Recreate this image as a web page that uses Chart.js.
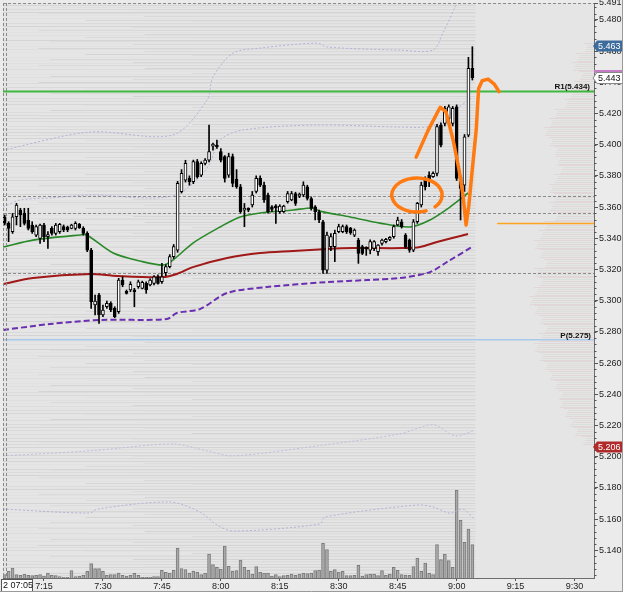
<!DOCTYPE html>
<html>
<head>
<meta charset="utf-8">
<script src="https://cdn.jsdelivr.net/npm/chart.js@4.4.1/dist/chart.umd.min.js"></script>
<style>
html,body{margin:0;padding:0;background:#ffffff;overflow:hidden;}
canvas{display:block;}
</style>
</head>
<body>
<canvas id="chart" width="625" height="595"></canvas>
<script>
// ================= DATA =================
const firstMinute = 5; // first candle at 07:05 (minutes after 07:00), one candle per minute
const opens = [
5.3538,5.3495,5.3442,5.3538,5.3581,5.3559,5.3517,5.3485,5.3420,5.3399,
5.3485,5.3410,5.3463,5.3431,5.3442,5.3474,5.3470,5.3463,5.3463,5.3489,
5.3463,5.3431,5.3324,5.2972,5.3036,5.2908,5.2961,5.2983,5.2950,5.2929,
5.3132,5.3057,5.3068,5.3068,5.3089,5.3079,5.3111,5.3100,5.3111,5.3153,
5.3121,5.3180,5.3218,5.3282,5.3324,5.3698,5.3773,5.3784,5.3762,5.3891,
5.3805,5.3880,5.3901,5.3990,5.3997,5.3955,5.3923,5.3805,5.3923,5.3780,
5.3730,5.3580,5.3585,5.3613,5.3700,5.3784,5.3741,5.3677,5.3602,5.3602,
5.3570,5.3570,5.3634,5.3645,5.3687,5.3670,5.3677,5.3730,5.3655,5.3602,
5.3570,5.3506,5.3196,5.3346,5.3346,5.3442,5.3442,5.3474,5.3463,5.3420,
5.3388,5.3346,5.3335,5.3324,5.3335,5.3314,5.3367,5.3378,5.3393,5.3410,
5.3485,5.3506,5.3420,5.3388,5.3324,5.3506,5.3613,5.3773,5.3805,5.3794,
5.3816,5.4126,5.4136,5.4168,5.4136,5.4243,5.3790,5.3740,5.4061,5.4489];
const highs = [
5.3549,5.3506,5.3559,5.3624,5.3592,5.3592,5.3592,5.3506,5.3485,5.3490,
5.3495,5.3442,5.3474,5.3495,5.3495,5.3485,5.3478,5.3490,5.3506,5.3495,
5.3474,5.3442,5.3335,5.3036,5.3047,5.2972,5.2997,5.2993,5.2961,5.3143,
5.3153,5.3068,5.3121,5.3079,5.3132,5.3125,5.3121,5.3140,5.3160,5.3165,
5.3239,5.3230,5.3295,5.3360,5.3765,5.3840,5.3900,5.3800,5.3901,5.3905,
5.3890,5.3910,5.4126,5.4010,5.4030,5.3975,5.3930,5.3945,5.3940,5.3840,
5.3745,5.3623,5.3595,5.3700,5.3800,5.3800,5.3760,5.3690,5.3610,5.3615,
5.3615,5.3612,5.3700,5.3700,5.3695,5.3690,5.3762,5.3740,5.3665,5.3610,
5.3580,5.3515,5.3440,5.3430,5.3452,5.3490,5.3485,5.3485,5.3470,5.3460,
5.3400,5.3355,5.3345,5.3390,5.3385,5.3360,5.3395,5.3400,5.3410,5.3485,
5.3535,5.3520,5.3430,5.3395,5.3520,5.3630,5.3760,5.3794,5.3826,5.3826,
5.4130,5.4140,5.4245,5.4255,5.4245,5.4255,5.3800,5.4065,5.4560,5.4628];
const lows = [
5.3485,5.3378,5.3431,5.3485,5.3474,5.3485,5.3453,5.3431,5.3410,5.3367,
5.3378,5.3335,5.3420,5.3420,5.3431,5.3442,5.3442,5.3460,5.3453,5.3463,
5.3420,5.3314,5.2950,5.2908,5.2854,5.2897,5.2950,5.2929,5.2891,5.2918,
5.3089,5.3042,5.3057,5.2961,5.3079,5.3075,5.3047,5.3095,5.3100,5.3105,
5.3111,5.3160,5.3210,5.3270,5.3310,5.3690,5.3760,5.3740,5.3750,5.3785,
5.3795,5.3870,5.3890,5.3965,5.3975,5.3890,5.3760,5.3790,5.3730,5.3720,
5.3560,5.3474,5.3570,5.3600,5.3690,5.3730,5.3630,5.3560,5.3570,5.3495,
5.3560,5.3565,5.3625,5.3640,5.3610,5.3660,5.3666,5.3645,5.3580,5.3517,
5.3500,5.3175,5.3175,5.3320,5.3250,5.3435,5.3435,5.3430,5.3425,5.3410,
5.3239,5.3295,5.3290,5.3300,5.3320,5.3290,5.3355,5.3370,5.3385,5.3400,
5.3480,5.3465,5.3335,5.3310,5.3314,5.3495,5.3600,5.3709,5.3730,5.3790,
5.3800,5.3985,5.4120,5.4150,5.4120,5.3770,5.3517,5.3700,5.4050,5.4414];
const closes = [
5.3495,5.3463,5.3538,5.3613,5.3549,5.3495,5.3463,5.3442,5.3474,5.3485,
5.3410,5.3420,5.3431,5.3485,5.3489,5.3453,5.3453,5.3485,5.3495,5.3468,
5.3431,5.3324,5.2993,5.2997,5.2908,5.2940,5.2983,5.2940,5.2897,5.3132,
5.3100,5.3047,5.3104,5.3057,5.3121,5.3117,5.3068,5.3132,5.3153,5.3111,
5.3153,5.3218,5.3282,5.3346,5.3752,5.3816,5.3880,5.3762,5.3891,5.3794,
5.3880,5.3901,5.3955,5.3997,5.3985,5.3901,5.3784,5.3923,5.3752,5.3730,
5.3570,5.3585,5.3580,5.3677,5.3784,5.3741,5.3645,5.3570,5.3585,5.3595,
5.3606,5.3606,5.3687,5.3687,5.3623,5.3677,5.3741,5.3655,5.3591,5.3570,
5.3517,5.3196,5.3420,5.3410,5.3431,5.3474,5.3474,5.3442,5.3435,5.3452,
5.3303,5.3303,5.3330,5.3378,5.3378,5.3356,5.3388,5.3393,5.3399,5.3474,
5.3517,5.3474,5.3346,5.3324,5.3506,5.3623,5.3741,5.3730,5.3773,5.3816,
5.4115,5.3997,5.4232,5.4243,5.4232,5.3784,5.3720,5.4050,5.4489,5.4430];
const volumes = [
10,20,30,10,8,12,8,7,8,10,
5,15,8,7,4,2,2,22,4,5,
8,20,43,28,28,20,8,10,10,15,
8,5,8,14,8,2,2,2,4,4,
23,17,15,23,90,28,25,15,20,17,
10,15,72,40,32,27,96,35,20,22,
54,32,23,12,34,17,15,15,5,10,
4,7,8,12,8,12,15,13,15,22,
24,104,85,20,25,18,20,7,7,8,
38,6,10,12,12,7,22,8,12,32,
23,10,9,8,34,60,20,45,15,10,
100,55,72,52,32,263,173,107,147,100];

// x ticks (minutes after 07:00) and y ticks (price)
const xTickMinutes = [15,30,45,60,75,90,105,120,135,150];
const yTickValues = [5.140,5.160,5.180,5.200,5.220,5.240,5.260,5.280,5.300,5.320,5.340,5.360,5.380,5.400,5.420,5.440,5.460,5.480];
const yTopLabel = 5.491;

// indicator lines: [minute, price]
const emaFast = [[4.6,5.3344],[12.2,5.3388],[24.2,5.3421],[25.9,5.3421],[32.6,5.3305],[39.4,5.3254],[45.3,5.3228],[47.8,5.3260],[52.9,5.3369],[59.8,5.3472],[64.9,5.3536],[70.0,5.3562],[78.4,5.3581],[83.4,5.3594],[85.2,5.3574],[92.9,5.3536],[100.5,5.3497],[108.1,5.3472],[113.2,5.3517],[118.3,5.3600],[122.9,5.3690]];
const emaSlow = [[4.6,5.3106],[12.2,5.3145],[26.7,5.3171],[33.6,5.3158],[45.3,5.3151],[48.8,5.3171],[52.9,5.3215],[61.6,5.3273],[70.0,5.3305],[78.4,5.3318],[87.0,5.3331],[93.6,5.3337],[106.3,5.3337],[110.7,5.3344],[115.0,5.3376],[122.9,5.3427]];
const vwapLine = [[4.6,5.2812],[16.5,5.2850],[29.2,5.2876],[46.3,5.2882],[48.8,5.2921],[54.7,5.2946],[61.6,5.3049],[71.7,5.3087],[87.0,5.3119],[97.2,5.3132],[105.6,5.3145],[113.2,5.3183],[117.5,5.3247],[123.9,5.3344]];
const bandUpper3 = [[4.6,5.3965],[26.7,5.4081],[47.8,5.4062],[56.5,5.4286],[58.0,5.4433],[63.1,5.4587],[70.0,5.4619],[84.5,5.4651],[87.0,5.4626],[105.6,5.4606],[114.0,5.4606],[116.5,5.4715],[119.6,5.4882],[121.4,5.4978]];
const bandUpper2 = [[4.6,5.3600],[8.9,5.3645],[16.5,5.3658],[26.7,5.3677],[47.8,5.3671],[56.5,5.3850],[59.8,5.4029],[65.6,5.4094],[84.5,5.4126],[105.6,5.4113],[114.0,5.4120],[118.3,5.4200],[123.9,5.4300]];
const bandLower2 = [[4.6,5.2005],[26.7,5.2037],[47.8,5.2081],[56.5,5.2037],[63.1,5.2005],[84.5,5.2069],[105.6,5.2146],[114.0,5.2204],[119.6,5.2133],[124.2,5.2165]];
const bandLower3 = [[4.6,5.1664],[26.7,5.1638],[28.5,5.1664],[47.1,5.1709],[54.7,5.1645],[59.0,5.1562],[63.1,5.1523],[85.2,5.1568],[86.5,5.1613],[109.9,5.1690],[114.0,5.1677],[118.3,5.1638],[121.6,5.1664],[124.2,5.1606]];

// levels
const r1Level = 5.434;
const pivotLevel = 5.275;
const orangeLevel = 5.350;
const orangeFromMinute = 130.3;
const dashedLevels = [5.3672, 5.356, 5.318];
const highPrice = 5.463, lastPrice = 5.443, lowPrice = 5.206;

// volume profile (price bins, relative volume)
const profilePrices = [5.462,5.456,5.450,5.444,5.438,5.432,5.426,5.420,5.414,5.408,5.402,5.396,5.390,5.384,5.378,5.372,5.366,5.360,5.354,5.348,5.342,5.336,5.330,5.324,5.318,5.312,5.306,5.300,5.294,5.288,5.282,5.276,5.270,5.264,5.258,5.252,5.246,5.240,5.234,5.228,5.222,5.216,5.210];
const profileVolumes = [10,18,22,15,20,25,30,40,45,50,45,40,38,35,40,45,40,45,40,50,55,60,55,50,60,55,60,65,60,55,50,55,60,55,50,45,40,35,35,30,25,20,12];

// hand-drawn annotations (minute, price)
const annotationZigzag = [[109.7,5.392],[112.7,5.409],[115.8,5.424],[117.3,5.421],[119.1,5.403],[120.6,5.384],[121.6,5.368],[122.4,5.3485],[123.1,5.361],[123.9,5.382],[125.0,5.410],[125.4,5.428],[125.6,5.436],[126.5,5.441],[128.0,5.442],[129.5,5.439],[130.8,5.434]];
const annotationCircle = {minute:109.9, price:5.3677, rMinutes:6.4, rPrice:0.0109};

// axis ranges
const xMin = 4.57, xMax = 154.95;
const yMin = 5.1222, yMax = 5.4908;

// ================= CHART =================
const FONT = '"Liberation Sans", Arial, sans-serif';
const pts = arr => arr.map(a => ({x:a[0], y:a[1]}));
const candleX = i => firstMinute + i;

const bgPlugin = {
  id:'bg',
  beforeDraw(chart){
    const {ctx, chartArea:a, scales:{x:xs, y:ys}} = chart;
    ctx.save();
    ctx.fillStyle = '#ebebeb';
    ctx.fillRect(0,0,chart.width,chart.height);
    ctx.fillStyle = '#e5e5e5';
    ctx.fillRect(a.left,a.top,a.right-a.left,a.bottom-a.top);
    ctx.beginPath(); ctx.rect(a.left,a.top,a.right-a.left,a.bottom-a.top); ctx.clip();
    // order-book style streak texture over the traded period
    const xEnd = xs.getPixelForValue(candleX(opens.length-1)) + 3;
    const shades = ['#d9d9d9','#e2e2e2','#dcdcdc','#d4d4d4','#e3e3e3','#dadada','#dfdfdf','#d6d6d6','#e1e1e1'];
    const cuts = [0, 0.55, 0, 0.2, 0, 0.8, 0.35, 0, 0.6, 0, 0.15];
    let k = 0;
    for (let p = yMin; p <= yMax; p += 0.001, k++) {
      const y = Math.round(ys.getPixelForValue(p));
      const cut = cuts[k % cuts.length];
      ctx.fillStyle = shades[k % shades.length];
      const xs0 = a.left + cut * (xEnd - a.left) * 0.5;
      ctx.fillRect(xs0, y, xEnd - xs0, 1);
    }
    // volume profile at right
    const binH = Math.abs(ys.getPixelForValue(0) - ys.getPixelForValue(0.006));
    profilePrices.forEach((p,i)=>{
      const y = ys.getPixelForValue(p);
      const w = profileVolumes[i];
      for (let j = 0; j < binH; j += 2) {
        ctx.fillStyle = (j/2)%2 ? 'rgba(175,200,175,0.20)' : 'rgba(215,170,180,0.24)';
        ctx.fillRect(a.right - w + ((j*7)%5), Math.round(y - binH/2 + j), w, 1);
      }
    });
    ctx.restore();
  },
  beforeDatasetsDraw(chart){
    const {ctx, chartArea:a, scales:{x:xs, y:ys}} = chart;
    ctx.save();
    ctx.beginPath(); ctx.rect(a.left,a.top,a.right-a.left,a.bottom-a.top); ctx.clip();
    ctx.strokeStyle = '#8a8a8a'; ctx.lineWidth = 1; ctx.setLineDash([3,2]);
    dashedLevels.forEach(v=>{
      const y = Math.round(ys.getPixelForValue(v))+0.5;
      ctx.beginPath(); ctx.moveTo(a.left,y); ctx.lineTo(a.right,y); ctx.stroke();
    });
    ctx.setLineDash([]);
    let y = ys.getPixelForValue(pivotLevel);
    ctx.strokeStyle = '#a9c9ea'; ctx.lineWidth = 1.5;
    ctx.beginPath(); ctx.moveTo(a.left,y); ctx.lineTo(a.right,y); ctx.stroke();
    y = ys.getPixelForValue(r1Level);
    ctx.strokeStyle = '#3fb83f'; ctx.lineWidth = 2;
    ctx.beginPath(); ctx.moveTo(a.left,y); ctx.lineTo(a.right,y); ctx.stroke();
    y = Math.round(ys.getPixelForValue(orangeLevel))+0.5;
    ctx.strokeStyle = '#ffa420'; ctx.lineWidth = 1.5;
    ctx.beginPath(); ctx.moveTo(xs.getPixelForValue(orangeFromMinute),y); ctx.lineTo(a.right,y); ctx.stroke();
    ctx.restore();
  },
  afterDatasetsDraw(chart){
    const {ctx, chartArea:a, scales:{x:xs, y:ys}} = chart;
    ctx.save();
    ctx.strokeStyle = '#8a8a8a'; ctx.lineWidth = 1; ctx.setLineDash([3,2]);
    ctx.beginPath(); ctx.moveTo(a.left, a.top+0.5); ctx.lineTo(a.right, a.top+0.5); ctx.stroke();
    ctx.beginPath(); ctx.moveTo(a.left+0.5, a.top); ctx.lineTo(a.left+0.5, a.bottom); ctx.stroke();
    ctx.beginPath(); ctx.moveTo(a.left+3.5, a.top); ctx.lineTo(a.left+3.5, a.bottom); ctx.stroke();
    ctx.setLineDash([]);
    ctx.fillStyle = '#111'; ctx.font = 'bold 8px ' + FONT; ctx.textAlign = 'right'; ctx.textBaseline = 'alphabetic';
    ctx.fillText('R1(' + r1Level.toFixed(3) + ')', a.right - 4, ys.getPixelForValue(r1Level) - 3);
    ctx.fillText('P(' + pivotLevel.toFixed(3) + ')', a.right - 3, ys.getPixelForValue(pivotLevel) - 2);
    ctx.strokeStyle = '#ff7a10'; ctx.lineWidth = 3.5; ctx.lineCap = 'round'; ctx.lineJoin = 'round';
    const c = annotationCircle;
    const cx = xs.getPixelForValue(c.minute), cy = ys.getPixelForValue(c.price);
    const rx = xs.getPixelForValue(c.minute + c.rMinutes) - cx;
    const ry = cy - ys.getPixelForValue(c.price + c.rPrice);
    ctx.beginPath(); ctx.ellipse(cx, cy, rx, ry, 0, 69*Math.PI/180, 404*Math.PI/180); ctx.stroke();
    ctx.beginPath();
    annotationZigzag.forEach((p,i)=>{
      const px = xs.getPixelForValue(p[0]), py = ys.getPixelForValue(p[1]);
      if (i===0) ctx.moveTo(px,py); else ctx.lineTo(px,py);
    });
    ctx.stroke();
    ctx.restore();
  },
  afterDraw(chart){
    const {ctx, chartArea:a, scales:{x:xs, y:ys}} = chart;
    ctx.save();
    ctx.strokeStyle = '#555'; ctx.lineWidth = 1;
    for (let v = 5.124; v < yMax; v += 0.004) {
      const y = Math.round(ys.getPixelForValue(v))+0.5;
      ctx.beginPath(); ctx.moveTo(a.right, y); ctx.lineTo(a.right+2.5, y); ctx.stroke();
    }
    const ty = ys.getPixelForValue(yTopLabel);
    ctx.beginPath(); ctx.moveTo(a.right, Math.round(ty)+0.5); ctx.lineTo(a.right+4, Math.round(ty)+0.5); ctx.stroke();
    ctx.fillStyle = '#222'; ctx.font = '9px ' + FONT; ctx.textAlign = 'left'; ctx.textBaseline = 'middle';
    ctx.fillText(yTopLabel.toFixed(3), a.right + 5, ty);
    const tag = (v, text, fill, txt, stroke) => {
      const y = Math.round(ys.getPixelForValue(v));
      const x0 = a.right + 3, x1 = a.right + 29, h = 11;
      ctx.beginPath();
      ctx.moveTo(a.right - 1, y); ctx.lineTo(x0, y - h/2); ctx.lineTo(x1, y - h/2);
      ctx.lineTo(x1, y + h/2); ctx.lineTo(x0, y + h/2); ctx.closePath();
      ctx.fillStyle = fill; ctx.fill();
      if (stroke) { ctx.strokeStyle = stroke; ctx.lineWidth = 1; ctx.stroke(); }
      ctx.fillStyle = txt; ctx.font = '9px ' + FONT; ctx.textAlign = 'left'; ctx.textBaseline = 'middle';
      ctx.fillText(text, x0 + 1, y + 0.5);
    };
    tag(highPrice, highPrice.toFixed(3), '#3d6c9c', '#ffffff');
    const ly = Math.round(ys.getPixelForValue(lastPrice));
    ctx.fillStyle = '#c47cc4'; ctx.fillRect(a.right, ly - 8, 29, 3);
    tag(lastPrice, lastPrice.toFixed(3), '#ffffff', '#111', '#888');
    tag(lowPrice, lowPrice.toFixed(3), '#b02a2a', '#ffffff');
    ctx.fillStyle = '#ffffff'; ctx.fillRect(1.5, a.bottom + 1.5, 31, 12);
    ctx.strokeStyle = '#555'; ctx.strokeRect(1.5, a.bottom + 1.5, 31, 12);
    ctx.fillStyle = '#111'; ctx.font = '9px ' + FONT; ctx.textAlign = 'left'; ctx.textBaseline = 'middle';
    ctx.fillText('2 07:05', 3, a.bottom + 8);
    ctx.fillStyle = '#ffffff';
    ctx.fillRect(623, 0, 2, chart.height);
    ctx.fillRect(0, 592, chart.width, 3);
    ctx.strokeStyle = '#9a9a9a';
    ctx.beginPath(); ctx.moveTo(622.5, 0); ctx.lineTo(622.5, 592); ctx.stroke();
    ctx.beginPath(); ctx.moveTo(0, 591.5); ctx.lineTo(623, 591.5); ctx.stroke();
    ctx.restore();
  }
};

const candleData = opens.map((o,i)=>({x:candleX(i), y:[o, closes[i]]}));
const wickData = opens.map((o,i)=>({x:candleX(i), y:[lows[i], highs[i]]}));
const volData = volumes.map((v,i)=>({x:candleX(i), y:v}));

const lineDs = (data, color, width, dash, order) => ({
  type:'line', data: pts(data), yAxisID:'y', borderColor: color, borderWidth: width,
  borderDash: dash, pointRadius:0, tension:0.3, fill:false, order
});

const noPad = s => { s.paddingTop = 0; s.paddingBottom = 0; s.paddingLeft = 0; s.paddingRight = 0; };

new Chart(document.getElementById('chart'), {
  type:'bar',
  data:{
    datasets:[
      {type:'bar', data: volData, yAxisID:'yv', backgroundColor:'#a9a9a9', borderColor:'#7b7b7b', borderWidth:1, barThickness:3, grouped:false, order:20},
      lineDs(bandUpper3, '#b9b0d8', 1, [2,2], 15),
      lineDs(bandUpper2, '#b9b0d8', 1, [2,2], 15),
      lineDs(bandLower2, '#c3bcdc', 1, [2,2], 15),
      lineDs(bandLower3, '#b9b0d8', 1, [2,2], 15),
      lineDs(vwapLine, '#6a2fb0', 2, [6,3], 9),
      lineDs(emaSlow, '#a01818', 2, [], 8),
      lineDs(emaFast, '#2a8a2a', 1.6, [], 7),
      {type:'bar', data: wickData, yAxisID:'y', backgroundColor:'#000000', borderWidth:0, barThickness:1, grouped:false, order:2},
      {type:'bar', data: candleData, yAxisID:'y',
        backgroundColor: opens.map((o,i)=> closes[i] >= o ? '#ffffff' : '#000000'),
        borderColor:'#000000', borderWidth:1, borderSkipped:false, barThickness:3, minBarLength:2, grouped:false, order:1}
    ]
  },
  options:{
    responsive:false, animation:false, devicePixelRatio:1,
    events:[],
    layout:{padding:{left:3, top:3, right:3, bottom:4}},
    plugins:{legend:{display:false}, tooltip:{enabled:false}, title:{display:false}},
    scales:{
      x:{
        type:'linear', min:xMin, max:xMax, offset:false,
        afterBuildTicks: s => { s.ticks = xTickMinutes.map(v=>({value:v})); },
        afterFit: s => { s.height = 13; noPad(s); },
        ticks:{
          callback: v => (7 + Math.floor(v/60)) + ':' + String(v % 60).padStart(2,'0'),
          font:{family:FONT, size:9}, color:'#222', padding:0, autoSkip:false, maxRotation:0
        },
        grid:{drawOnChartArea:false, tickLength:3, color:'#555', offset:false},
        border:{color:'#6d6d6d'}
      },
      y:{
        type:'linear', position:'right', min:yMin, max:yMax,
        afterBuildTicks: s => { s.ticks = yTickValues.map(v=>({value:v})); },
        afterFit: s => { s.width = 28; noPad(s); },
        ticks:{
          callback: v => Number(v).toFixed(3),
          font:{family:FONT, size:9}, color:'#222', padding:1, autoSkip:false
        },
        grid:{drawOnChartArea:false, tickLength:4, color:'#555'},
        border:{color:'#6d6d6d'}
      },
      yv:{display:false, min:0, max:1725}
    }
  },
  plugins:[bgPlugin]
});
</script>
</body>
</html>
